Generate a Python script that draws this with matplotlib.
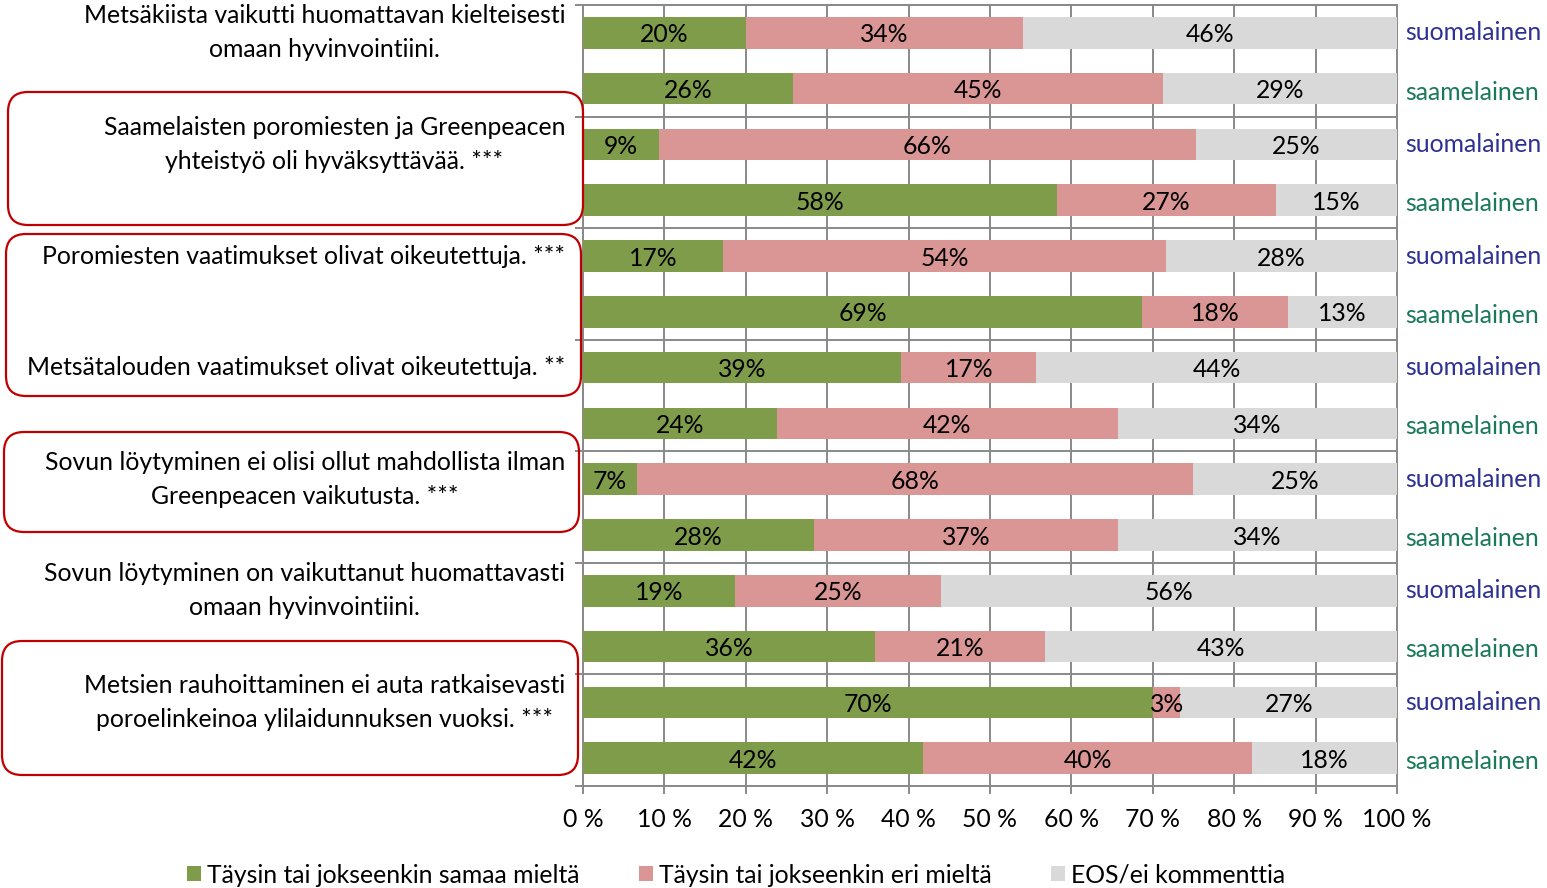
import numpy as np
import matplotlib
matplotlib.use("Agg")
import matplotlib.pyplot as plt
from matplotlib.patches import FancyBboxPatch, Patch
from matplotlib import transforms

# ---------------- data ----------------
questions = [
    "Metsäkiista vaikutti huomattavan kielteisesti\nomaan hyvinvointiini.",
    "Saamelaisten poromiesten ja Greenpeacen\nyhteistyö oli hyväksyttävää. ***",
    "Poromiesten vaatimukset olivat oikeutettuja. ***",
    "Metsätalouden vaatimukset olivat oikeutettuja. **",
    "Sovun löytyminen ei olisi ollut mahdollista ilman\nGreenpeacen vaikutusta. ***",
    "Sovun löytyminen on vaikuttanut huomattavasti\nomaan hyvinvointiini.",
    "Metsien rauhoittaminen ei auta ratkaisevasti\nporoelinkeinoa ylilaidunnuksen vuoksi. ***",
]
groups = ["suomalainen", "saamelainen"]

agree = [20.0, 25.8, 9.3, 58.2, 17.2, 68.7, 39.1, 23.8, 6.6, 28.4, 18.7, 35.9, 70.0, 41.8]
disagree = [34.0, 45.4, 66.0, 26.9, 54.4, 17.9, 16.6, 41.9, 68.3, 37.3, 25.3, 20.9, 3.4, 40.4]
no_opinion = [46.0, 28.8, 24.7, 14.9, 28.4, 13.4, 44.3, 34.3, 25.1, 34.3, 56.0, 43.2, 26.6, 17.8]

series_names = ["Täysin tai jokseenkin samaa mieltä",
                "Täysin tai jokseenkin eri mieltä",
                "EOS/ei kommenttia"]
x_ticks = [0, 10, 20, 30, 40, 50, 60, 70, 80, 90, 100]
x_tick_labels = ["0 %", "10 %", "20 %", "30 %", "40 %", "50 %",
                 "60 %", "70 %", "80 %", "90 %", "100 %"]

# ---------------- style ----------------
FONT = "Lato"
FS = 17.8
colors = ["#7F9C4A", "#DA9694", "#D9D9D9"]
group_colors = {"suomalainen": "#2E3192", "saamelainen": "#1A7A58"}
grid_col = "#898989"

W, H = 1547, 888
fig = plt.figure(figsize=(W / 100, H / 100), dpi=100)
plt.rcParams["font.family"] = [FONT, "DejaVu Sans"]

ax_l, ax_r, ax_t, ax_b = 583, 1397, 5, 786
ax = fig.add_axes([ax_l / W, 1 - ax_b / H, (ax_r - ax_l) / W, (ax_b - ax_t) / H])

n = len(agree)
y = np.arange(n)
left = np.zeros(n)
for vals, col in zip([agree, disagree, no_opinion], colors):
    vals = np.array(vals)
    bc = ax.barh(y, vals, left=left, height=0.565, color=col, zorder=3)
    labels = ax.bar_label(bc, labels=[f"{v:.0f}%" for v in vals], label_type="center",
                          fontsize=FS, color="black", family=FONT, zorder=4)
    for t in labels:
        t.set_y(t.get_position()[1] - 1.5)
    left += vals

ax.set_xlim(0, 100)
ax.set_ylim(n - 0.5, -0.5)
ax.set_xticks(x_ticks)
ax.set_xticklabels(x_tick_labels, fontsize=FS, family=FONT)
ax.set_yticks(np.arange(-0.5, n, 2))
ax.set_yticklabels([])
ax.tick_params(axis="x", direction="out", length=6, width=1.4, color=grid_col, pad=10)
ax.tick_params(axis="y", direction="out", length=6, width=1.4, color=grid_col)
ax.grid(True, color=grid_col, lw=1.4, zorder=0)
ax.set_axisbelow(True)
for s in ax.spines.values():
    s.set_color(grid_col)
    s.set_linewidth(1.4)

# question labels (left)
blend = transforms.blended_transform_factory(fig.transFigure, ax.transData)
for i, q in enumerate(questions):
    ax.text(565 / W, 2 * i, q, transform=blend, ha="right", va="center",
            multialignment="center", fontsize=FS, family=FONT,
            linespacing=1.57)

# group labels (right)
rblend = transforms.blended_transform_factory(ax.transAxes, ax.transData)
for i in range(n):
    g = groups[i % 2]
    dy = 0.06 if g == "saamelainen" else 0.0
    ax.text(1.01, i + dy, g, transform=rblend,
            ha="left", va="center", fontsize=FS, family=FONT, color=group_colors[g],
            clip_on=False)

# red rounded boxes (pixel coords)
boxes_px = [(8, 92, 583, 225), (6, 234, 581, 396), (4, 432, 579, 532), (2, 641, 578, 775)]
for (x0, y0, x1, y1) in boxes_px:
    p = FancyBboxPatch((x0 / 100, (H - y1) / 100), (x1 - x0) / 100, (y1 - y0) / 100,
                       boxstyle="round,pad=0,rounding_size=0.2",
                       transform=fig.dpi_scale_trans, fill=False,
                       edgecolor="#C00000", lw=1.6, zorder=5)
    fig.patches.append(p)

# legend
handles = [Patch(facecolor=c, edgecolor="none") for c in colors]
fig.legend(handles, series_names, loc="center", bbox_to_anchor=(736 / W, 1 - 875 / H),
           ncol=3, frameon=False, prop={"family": FONT, "size": FS},
           handlelength=0.57, handleheight=0.57, handletextpad=0.25, columnspacing=2.4)

fig.savefig("out.png", dpi=100)
